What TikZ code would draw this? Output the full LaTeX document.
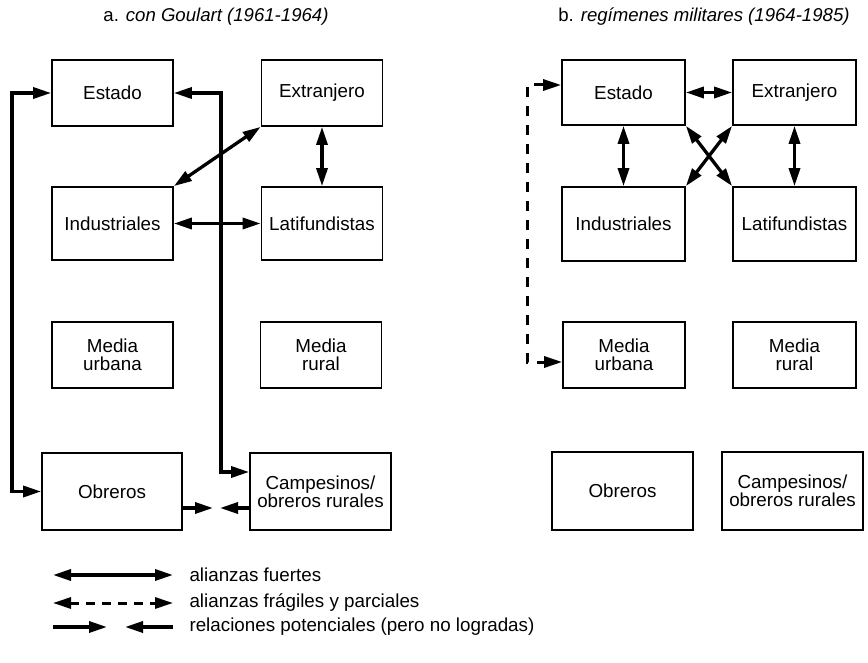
\documentclass[tikz,border=0pt]{standalone}
\usepackage{fontspec}
\setmainfont{Liberation Sans}
\usetikzlibrary{arrows.meta,calc}
\begin{document}
\begin{tikzpicture}[x=1pt,y=-1pt,
  box/.style={draw, line width=1.7pt, inner sep=0pt, align=center,
    font=\fontsize{18.8}{18}\selectfont, minimum width=121pt, minimum height=66pt},
  strong/.style={line width=3.3pt, {Triangle[length=18pt,width=11pt]}-{Triangle[length=18pt,width=11pt]}},
  fragile/.style={line width=3pt, dash pattern=on 10pt off 9pt, {Triangle[length=18pt,width=11pt]}-{Triangle[length=18pt,width=11pt]}},
  potential/.style={line width=3.3pt, -{Triangle[length=18pt,width=11pt]}},
  title/.style={font=\fontsize{18.6}{20}\selectfont},
  legtext/.style={anchor=west, font=\fontsize{18.8}{20}\selectfont},
]
\fill[white] (0,0) rectangle (868,663);
\useasboundingbox (0,0) rectangle (868,663);

% titles
\node[title] (tA) at (216,17) {a. \textit{con Goulart (1961-1964)}};
\node[title] (tB) at (704,17) {b. \textit{regímenes militares (1964-1985)}};

% panel a boxes
\node[box] (eA) at (112.5,93) {Estado};
\node[box] (xA) at (322,93) {Extranjero};
\node[box, minimum height=73pt] (iA) at (112.5,223.5) {Industriales};
\node[box, minimum height=73pt] (lA) at (322,223.5) {Latifundistas};
\node[box] (muA) at (112.5,355) {Media\\urbana};
\node[box] (mrA) at (321,355) {Media\\rural};
\node[box, minimum width=140pt, minimum height=77pt] (oA) at (112,491.5) {Obreros};
\node[box, minimum width=141pt, minimum height=77pt] (cA) at (320.5,491.5) {Campesinos/\\obreros rurales};

% panel b boxes
\node[box, minimum width=123pt, minimum height=65pt] (eB) at (623.5,92.5) {Estado};
\node[box, minimum width=123pt, minimum height=65pt] (xB) at (794.5,92.5) {Extranjero};
\node[box, minimum width=123pt, minimum height=74pt] (iB) at (623.5,224) {Industriales};
\node[box, minimum width=123pt, minimum height=74pt] (lB) at (794.5,224) {Latifundistas};
\node[box, minimum width=122pt] (muB) at (624,355) {Media\\urbana};
\node[box, minimum width=123pt] (mrB) at (794.5,355) {Media\\rural};
\node[box, minimum width=141pt, minimum height=78pt] (oB) at (622.5,491) {Obreros};
\node[box, minimum width=141pt, minimum height=78pt] (cB) at (792.5,491) {Campesinos/\\obreros rurales};

% panel a connectors
\coordinate (L1) at (12,0);
\coordinate (R1) at (221,472);
\draw[strong] (eA.west) -- (eA.west -| L1) -- (oA.west -| L1) -- (oA.west);
\draw[strong] (eA.east) -| (R1) -- (R1 -| cA.west);
\draw[strong] (xA.south west) -- (iA.north east);
\draw[strong] (xA.south) -- (lA.north);
\draw[strong] (iA.east) -- (lA.west);
\coordinate (potA) at (213,508);
\coordinate (potB) at (220,508);
\draw[potential] (oA.east |- potA) -- (potA);
\draw[potential] (cA.west |- potB) -- (potB);

% panel b connectors
\draw[strong] (eB.east) -- (xB.west);
\draw[strong] (eB.south) -- (iB.north);
\draw[strong] (xB.south) -- (lB.north);
\draw[strong] (eB.south east) -- (lB.north west);
\draw[strong] (xB.south west) -- (iB.north east);
\coordinate (D1) at (527,85);
\coordinate (D2) at (527,362);
\draw[fragile] (eB.west |- D1) -- (D1) -- (D2) -- (muB.west |- D2);

% legend
\coordinate (g1a) at (53,575); \coordinate (g1b) at (173,575);
\coordinate (g2a) at (53,603); \coordinate (g2b) at (173,603);
\coordinate (g3a) at (53,627); \coordinate (g3b) at (107,627);
\coordinate (g3c) at (125,627); \coordinate (g3d) at (173,627);
\draw[strong] (g1a) -- (g1b);
\draw[fragile, dash pattern=on 9pt off 7pt] (g2a) -- (g2b);
\draw[potential] (g3a) -- (g3b);
\draw[potential] (g3d) -- (g3c);
\node[legtext] (t1) at (186,575) {alianzas fuertes};
\node[legtext] (t2) at (186,603) {alianzas frágiles y parciales};
\node[legtext] (t3) at (186,627) {relaciones potenciales (pero no logradas)};
\end{tikzpicture}
\end{document}
